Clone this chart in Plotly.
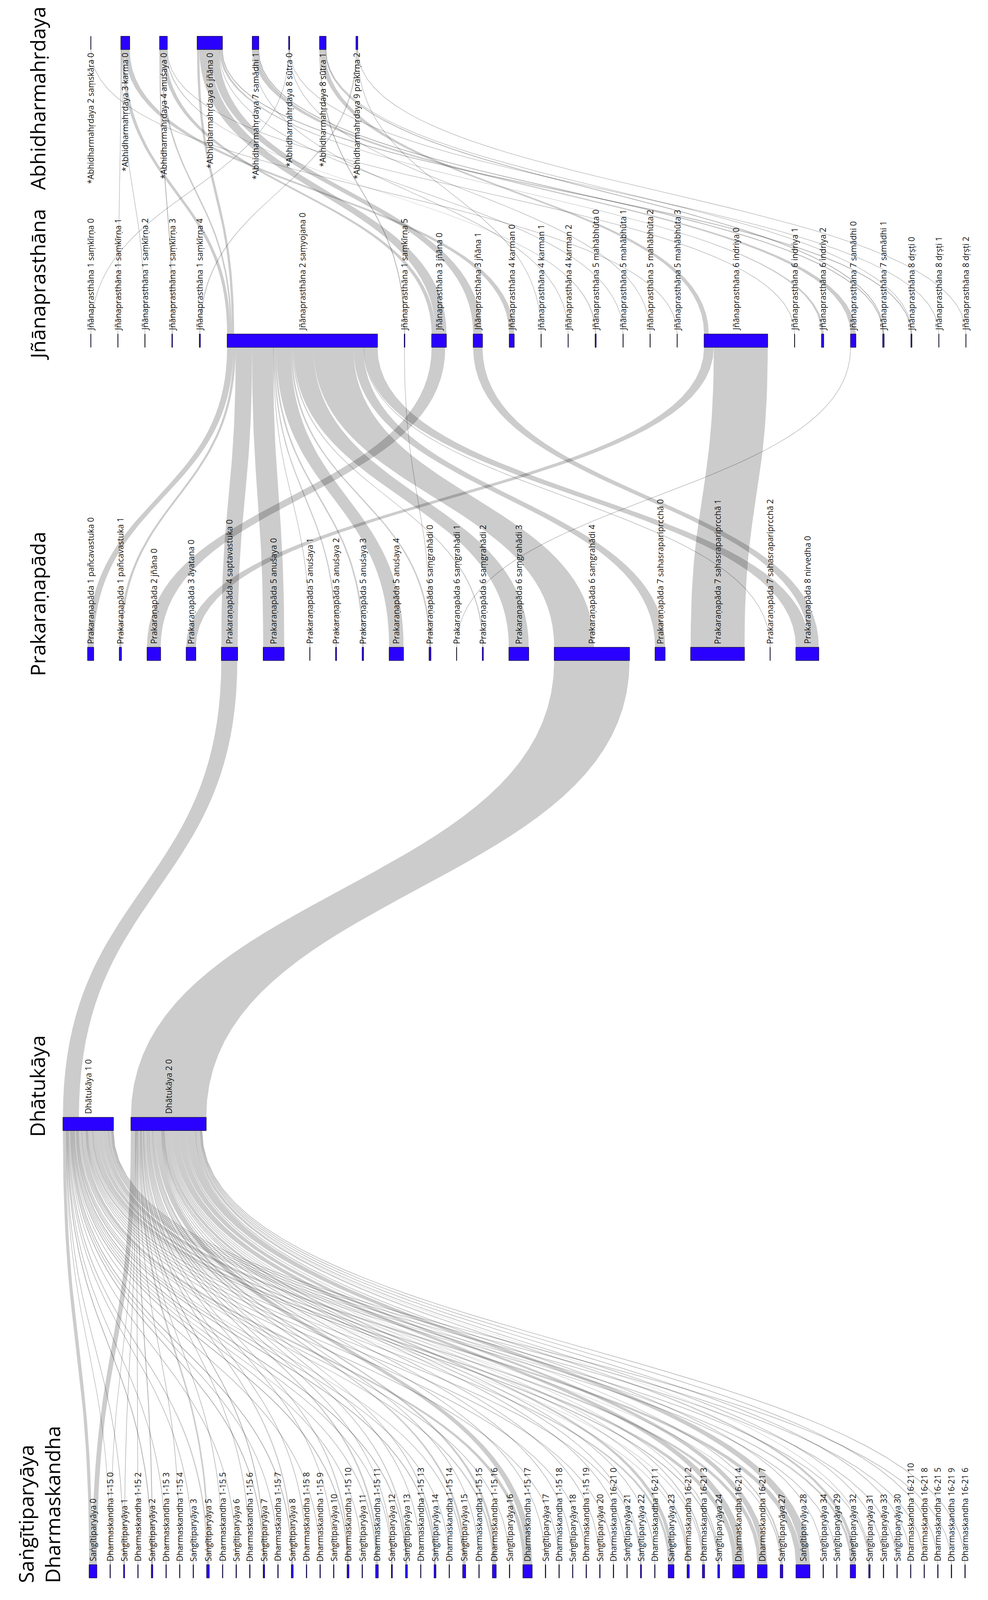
import plotly.graph_objects as go

# ---- nodes per level (left to right) ----
abhi_nodes = ["*Abhidharmahṛdaya 2 saṃskāra 0", "*Abhidharmahṛdaya 3 karma 0", "*Abhidharmahṛdaya 4 anuśaya 0",
              "*Abhidharmahṛdaya 6 jñāna 0", "*Abhidharmahṛdaya 7 samādhi 1", "*Abhidharmahṛdaya 8 sūtra 0",
              "*Abhidharmahṛdaya 8 sūtra 1", "*Abhidharmahṛdaya 9 prakīrṇa 2"]
jnana_nodes = ["Jñānaprasthāna 1 saṃkīrṇa 0", "Jñānaprasthāna 1 saṃkīrṇa 1", "Jñānaprasthāna 1 saṃkīrṇa 2",
               "Jñānaprasthāna 1 saṃkīrṇa 3", "Jñānaprasthāna 1 saṃkīrṇa 4", "Jñānaprasthāna 2 saṃyojana 0",
               "Jñānaprasthāna 1 saṃkīrṇa 5", "Jñānaprasthāna 3 jñāna 0", "Jñānaprasthāna 3 jñāna 1",
               "Jñānaprasthāna 4 karman 0", "Jñānaprasthāna 4 karman 1", "Jñānaprasthāna 4 karman 2",
               "Jñānaprasthāna 5 mahābhūta 0", "Jñānaprasthāna 5 mahābhūta 1", "Jñānaprasthāna 5 mahābhūta 2",
               "Jñānaprasthāna 5 mahābhūta 3", "Jñānaprasthāna 6 indriya 0", "Jñānaprasthāna 6 indriya 1",
               "Jñānaprasthāna 6 indriya 2", "Jñānaprasthāna 7 samādhi 0", "Jñānaprasthāna 7 samādhi 1",
               "Jñānaprasthāna 8 dṛṣṭi 0", "Jñānaprasthāna 8 dṛṣṭi 1", "Jñānaprasthāna 8 dṛṣṭi 2"]
prak_nodes = ["Prakaraṇapāda 1 pañcavastuka 0", "Prakaraṇapāda 1 pañcavastuka 1", "Prakaraṇapāda 2 jñāna 0",
              "Prakaraṇapāda 3 āyatana 0", "Prakaraṇapāda 4 saptavastuka 0", "Prakaraṇapāda 5 anuśaya 0",
              "Prakaraṇapāda 5 anuśaya 1", "Prakaraṇapāda 5 anuśaya 2", "Prakaraṇapāda 5 anuśaya 3",
              "Prakaraṇapāda 5 anuśaya 4", "Prakaraṇapāda 6 saṃgrahādi 0", "Prakaraṇapāda 6 saṃgrahādi 1",
              "Prakaraṇapāda 6 saṃgrahādi 2", "Prakaraṇapāda 6 saṃgrahādi 3", "Prakaraṇapāda 6 saṃgrahādi 4",
              "Prakaraṇapāda 7 sahasrapariprcchā 0", "Prakaraṇapāda 7 sahasrapariprcchā 1",
              "Prakaraṇapāda 7 sahasrapariprcchā 2", "Prakaraṇapāda 8 nirvedha 0"]
dhatu_nodes = ["Dhātukāya 1 0", "Dhātukāya 2 0"]
base_nodes = ["Saṅgītiparyāya 0", "Dharmaskandha 1-15 0", "Saṅgītiparyāya 1", "Dharmaskandha 1-15 2",
              "Saṅgītiparyāya 2", "Dharmaskandha 1-15 3", "Dharmaskandha 1-15 4", "Saṅgītiparyāya 3",
              "Saṅgītiparyāya 5", "Dharmaskandha 1-15 5", "Saṅgītiparyāya 6", "Dharmaskandha 1-15 6",
              "Saṅgītiparyāya 7", "Dharmaskandha 1-15 7", "Saṅgītiparyāya 8", "Dharmaskandha 1-15 8",
              "Dharmaskandha 1-15 9", "Saṅgītiparyāya 10", "Dharmaskandha 1-15 10", "Saṅgītiparyāya 11",
              "Dharmaskandha 1-15 11", "Saṅgītiparyāya 12", "Saṅgītiparyāya 13", "Dharmaskandha 1-15 13",
              "Saṅgītiparyāya 14", "Dharmaskandha 1-15 14", "Saṅgītiparyāya 15", "Dharmaskandha 1-15 15",
              "Dharmaskandha 1-15 16", "Saṅgītiparyāya 16", "Dharmaskandha 1-15 17", "Saṅgītiparyāya 17",
              "Dharmaskandha 1-15 18", "Saṅgītiparyāya 18", "Dharmaskandha 1-15 19", "Saṅgītiparyāya 20",
              "Dharmaskandha 16-21 0", "Saṅgītiparyāya 21", "Saṅgītiparyāya 22", "Dharmaskandha 16-21 1",
              "Saṅgītiparyāya 23", "Dharmaskandha 16-21 2", "Dharmaskandha 16-21 3", "Saṅgītiparyāya 24",
              "Dharmaskandha 16-21 4", "Dharmaskandha 16-21 7", "Saṅgītiparyāya 27", "Saṅgītiparyāya 28",
              "Saṅgītiparyāya 34", "Saṅgītiparyāya 29", "Saṅgītiparyāya 32", "Saṅgītiparyāya 31",
              "Saṅgītiparyāya 33", "Saṅgītiparyāya 30", "Dharmaskandha 16-21 10", "Dharmaskandha 16-21 8",
              "Dharmaskandha 16-21 5", "Dharmaskandha 16-21 9", "Dharmaskandha 16-21 6"]

# base texts -> Dhātukāya 1 / Dhātukāya 2 (same order as base_nodes)
base_to_d1 = [8, 1, 1.5, 0, 2, 1.5, 0, 1.5, 3, 0, 1.5, 0, 2, 1.5, 2, 0, 1.5, 0, 2, 1.5,
              3, 1.5, 2, 0, 2, 1.5, 3, 0, 4, 1.5, 9, 0, 1.5, 0, 1.5, 0, 1.5, 0, 1.5, 0,
              6, 2.5, 2.5, 2, 12, 10, 3, 14, 0, 1.5, 6, 1.5, 0, 1.5, 0, 1.5, 0, 1.5, 0]
base_to_d2 = [12, 0.5, 1.5, 1.5, 2, 0, 1.5, 0, 4, 1.5, 0, 1.5, 2, 0, 3, 1.5, 0, 1.5, 3, 0,
              4, 1.5, 3, 1.5, 3, 0, 5, 1.5, 6, 0, 15, 1.5, 0, 1.5, 0, 1.5, 0, 1.5, 1.5, 1.5,
              9, 3.5, 3.5, 3, 18, 15, 4, 22, 1.5, 0, 8, 2.5, 1.5, 0, 1.5, 0, 1.5, 0, 1.5]

# links between upper and lower levels: (upper node, lower node, value)
abhi_jnana = [
    ("*Abhidharmahṛdaya 2 saṃskāra 0", "Jñānaprasthāna 5 mahābhūta 3", 1),
    ("*Abhidharmahṛdaya 3 karma 0", "Jñānaprasthāna 1 saṃkīrṇa 1", 1),
    ("*Abhidharmahṛdaya 3 karma 0", "Jñānaprasthāna 1 saṃkīrṇa 2", 1),
    ("*Abhidharmahṛdaya 3 karma 0", "Jñānaprasthāna 2 saṃyojana 0", 8),
    ("*Abhidharmahṛdaya 3 karma 0", "Jñānaprasthāna 4 karman 0", 13),
    ("*Abhidharmahṛdaya 4 anuśaya 0", "Jñānaprasthāna 1 saṃkīrṇa 3", 2),
    ("*Abhidharmahṛdaya 4 anuśaya 0", "Jñānaprasthāna 2 saṃyojana 0", 4),
    ("*Abhidharmahṛdaya 4 anuśaya 0", "Jñānaprasthāna 3 jñāna 0", 10),
    ("*Abhidharmahṛdaya 4 anuśaya 0", "Jñānaprasthāna 5 mahābhūta 0", 3),
    ("*Abhidharmahṛdaya 4 anuśaya 0", "Jñānaprasthāna 6 indriya 1", 1),
    ("*Abhidharmahṛdaya 6 jñāna 0", "Jñānaprasthāna 2 saṃyojana 0", 6),
    ("*Abhidharmahṛdaya 6 jñāna 0", "Jñānaprasthāna 3 jñāna 0", 28),
    ("*Abhidharmahṛdaya 6 jñāna 0", "Jñānaprasthāna 3 jñāna 1", 22),
    ("*Abhidharmahṛdaya 6 jñāna 0", "Jñānaprasthāna 5 mahābhūta 1", 1),
    ("*Abhidharmahṛdaya 6 jñāna 0", "Jñānaprasthāna 6 indriya 2", 6),
    ("*Abhidharmahṛdaya 6 jñāna 0", "Jñānaprasthāna 8 dṛṣṭi 0", 2),
    ("*Abhidharmahṛdaya 7 samādhi 1", "Jñānaprasthāna 4 karman 2", 1),
    ("*Abhidharmahṛdaya 7 samādhi 1", "Jñānaprasthāna 7 samādhi 0", 14),
    ("*Abhidharmahṛdaya 7 samādhi 1", "Jñānaprasthāna 7 samādhi 1", 2),
    ("*Abhidharmahṛdaya 8 sūtra 0", "Jñānaprasthāna 1 saṃkīrṇa 0", 1),
    ("*Abhidharmahṛdaya 8 sūtra 0", "Jñānaprasthāna 5 mahābhūta 2", 1),
    ("*Abhidharmahṛdaya 8 sūtra 0", "Jñānaprasthāna 8 dṛṣṭi 1", 1),
    ("*Abhidharmahṛdaya 8 sūtra 1", "Jñānaprasthāna 1 saṃkīrṇa 5", 2),
    ("*Abhidharmahṛdaya 8 sūtra 1", "Jñānaprasthāna 6 indriya 0", 12),
    ("*Abhidharmahṛdaya 8 sūtra 1", "Jñānaprasthāna 7 samādhi 1", 2),
    ("*Abhidharmahṛdaya 8 sūtra 1", "Jñānaprasthāna 8 dṛṣṭi 0", 1),
    ("*Abhidharmahṛdaya 9 prakīrṇa 2", "Jñānaprasthāna 1 saṃkīrṇa 4", 3),
    ("*Abhidharmahṛdaya 9 prakīrṇa 2", "Jñānaprasthāna 4 karman 1", 1),
    ("*Abhidharmahṛdaya 9 prakīrṇa 2", "Jñānaprasthāna 8 dṛṣṭi 2", 1),
]
jnana_prak = [
    ("Jñānaprasthāna 2 saṃyojana 0", "Prakaraṇapāda 1 pañcavastuka 0", 16),
    ("Jñānaprasthāna 2 saṃyojana 0", "Prakaraṇapāda 1 pañcavastuka 1", 6),
    ("Jñānaprasthāna 2 saṃyojana 0", "Prakaraṇapāda 4 saptavastuka 0", 42),
    ("Jñānaprasthāna 2 saṃyojana 0", "Prakaraṇapāda 5 anuśaya 0", 54),
    ("Jñānaprasthāna 2 saṃyojana 0", "Prakaraṇapāda 5 anuśaya 1", 1),
    ("Jñānaprasthāna 2 saṃyojana 0", "Prakaraṇapāda 5 anuśaya 2", 3),
    ("Jñānaprasthāna 2 saṃyojana 0", "Prakaraṇapāda 5 anuśaya 3", 4),
    ("Jñānaprasthāna 2 saṃyojana 0", "Prakaraṇapāda 5 anuśaya 4", 37),
    ("Jñānaprasthāna 2 saṃyojana 0", "Prakaraṇapāda 6 saṃgrahādi 0", 4),
    ("Jñānaprasthāna 2 saṃyojana 0", "Prakaraṇapāda 6 saṃgrahādi 2", 3),
    ("Jñānaprasthāna 2 saṃyojana 0", "Prakaraṇapāda 6 saṃgrahādi 3", 51),
    ("Jñānaprasthāna 2 saṃyojana 0", "Prakaraṇapāda 6 saṃgrahādi 4", 102),
    ("Jñānaprasthāna 2 saṃyojana 0", "Prakaraṇapāda 7 sahasrapariprcchā 0", 26),
    ("Jñānaprasthāna 2 saṃyojana 0", "Prakaraṇapāda 7 sahasrapariprcchā 2", 1),
    ("Jñānaprasthāna 2 saṃyojana 0", "Prakaraṇapāda 8 nirvedha 0", 35),
    ("Jñānaprasthāna 1 saṃkīrṇa 5", "Prakaraṇapāda 6 saṃgrahādi 0", 1),
    ("Jñānaprasthāna 3 jñāna 0", "Prakaraṇapāda 2 jñāna 0", 35),
    ("Jñānaprasthāna 3 jñāna 1", "Prakaraṇapāda 8 nirvedha 0", 24),
    ("Jñānaprasthāna 6 indriya 0", "Prakaraṇapāda 3 āyatana 0", 25),
    ("Jñānaprasthāna 6 indriya 0", "Prakaraṇapāda 7 sahasrapariprcchā 1", 138),
    ("Jñānaprasthāna 7 samādhi 0", "Prakaraṇapāda 6 saṃgrahādi 1", 1),
]
prak_dhatu = [
    ("Prakaraṇapāda 4 saptavastuka 0", "Dhātukāya 1 0", 41),
    ("Prakaraṇapāda 6 saṃgrahādi 4", "Dhātukāya 2 0", 193),
]

level_titles = ["Abhidharmahṛdaya", "Jñānaprasthāna", "Prakaraṇapāda", "Dhātukāya",
                "Saṅgītiparyāya<br>Dharmaskandha"]

# ---- layout constants (page pixels of the reference) ----
W, H = 2529, 5164
NODE_H = 43
levels = [
    # nodes, top y, x start, x end, title anchor y
    (abhi_nodes, 117, 232, 916, 20),
    (jnana_nodes, 1078, 232, 2473, 1166),
    (prak_nodes, 2089, 224, 2096, 2185),
    (dhatu_nodes, 3606, 161, 528, 3672),
    (base_nodes, 5050, 228, 2471, 5112),
]

links = list(abhi_jnana) + list(jnana_prak) + list(prak_dhatu)
for i, name in enumerate(base_nodes):
    if base_to_d1[i] > 0:
        links.append(("Dhātukāya 1 0", name, base_to_d1[i]))
    if base_to_d2[i] > 0:
        links.append(("Dhātukāya 2 0", name, base_to_d2[i]))

out_sum, in_sum = {}, {}
for u, l, v in links:
    out_sum[u] = out_sum.get(u, 0) + v
    in_sum[l] = in_sum.get(l, 0) + v

pos = {}  # name -> (x0, width, ytop)
for nodes, ytop, xs, xe, _ in levels:
    widths = [max(out_sum.get(n, 0), in_sum.get(n, 0), 1) for n in nodes]
    gap = (xe - xs - sum(widths)) / max(len(nodes) - 1, 1)
    x = xs
    for n, w in zip(nodes, widths):
        pos[n] = (x, w, ytop)
        x += w + gap


def center(n):
    return pos[n][0] + pos[n][1] / 2


# stack link ends along each node, ordered by the other end
ends = {}
for n in pos:
    outs = sorted([k for k, lk in enumerate(links) if lk[0] == n], key=lambda k: center(links[k][1]))
    ins = sorted([k for k, lk in enumerate(links) if lk[1] == n], key=lambda k: center(links[k][0]))
    x = pos[n][0]
    for k in outs:
        ends.setdefault(k, {})["u"] = x
        x += links[k][2]
    x = pos[n][0]
    for k in ins:
        ends.setdefault(k, {})["l"] = x
        x += links[k][2]


def bez(xa, ya, xb, yb, steps=40):
    ym = (ya + yb) / 2
    pts = []
    for i in range(steps + 1):
        t = i / steps
        a, b, c, d = (1 - t) ** 3, 3 * (1 - t) ** 2 * t, 3 * (1 - t) * t ** 2, t ** 3
        pts.append((a * xa + b * xa + c * xb + d * xb, a * ya + b * ym + c * ym + d * yb))
    return pts


fig = go.Figure()
for k, (u, l, v) in enumerate(links):
    y0 = pos[u][2] + NODE_H
    y1 = pos[l][2]
    xu, xl = ends[k]["u"], ends[k]["l"]
    if v <= 2:
        pts = bez(xu + v / 2, y0, xl + v / 2, y1)
        fig.add_trace(go.Scatter(x=[p[0] for p in pts], y=[p[1] for p in pts], mode="lines",
                                 line=dict(color="rgba(0,0,0,0.3)", width=max(v, 1.3)),
                                 hoverinfo="skip", showlegend=False))
    else:
        left = bez(xu, y0, xl, y1)
        right = bez(xl + v, y1, xu + v, y0)
        xs_ = [p[0] for p in left + right] + [xu]
        ys_ = [p[1] for p in left + right] + [y0]
        fig.add_trace(go.Scatter(x=xs_, y=ys_, mode="lines", fill="toself",
                                 fillcolor="rgba(0,0,0,0.2)", line=dict(width=0),
                                 hoverinfo="skip", showlegend=False))

# nodes
nx, ny = [], []
for n, (x0, w, yt) in pos.items():
    nx += [x0, x0 + w, x0 + w, x0, x0, None]
    ny += [yt, yt, yt + NODE_H, yt + NODE_H, yt, None]
fig.add_trace(go.Scatter(x=nx, y=ny, mode="lines", fill="toself", fillcolor="#2a00ff",
                         line=dict(color="black", width=1), hoverinfo="skip", showlegend=False))

# node labels and level titles
for li, (nodes, ytop, xs, xe, ty) in enumerate(levels):
    for n in nodes:
        if li == 0:
            fig.add_annotation(x=center(n), y=ytop + NODE_H + 8, text=n, textangle=-90, showarrow=False,
                               xanchor="center", yanchor="top", font=dict(size=21, color="#111"))
        else:
            fig.add_annotation(x=center(n), y=ytop - 8, text=n, textangle=-90, showarrow=False,
                               xanchor="center", yanchor="bottom", font=dict(size=21, color="#111"))
    fig.add_annotation(x=95 if li < 4 else 100, y=ty, text=level_titles[li], textangle=-90, showarrow=False,
                       xanchor="center", yanchor="top" if li == 0 else "bottom", align="left",
                       font=dict(size=52, color="black"))

fig.update_layout(
    autosize=True, margin=dict(l=0, r=0, t=0, b=0),
    paper_bgcolor="white", plot_bgcolor="white",
    font=dict(family="Open Sans, Noto Sans, sans-serif"),
    xaxis=dict(range=[0, W], visible=False, fixedrange=True),
    yaxis=dict(range=[H, 0], visible=False, fixedrange=True),
)
fig.write_html(
    "out.html",
    config={"displayModeBar": False},
    default_width="100vw",
    default_height="100vh",
    post_script="document.body.style.margin='0';document.body.style.overflow='hidden';"
                "Plotly.Plots.resize(document.getElementById('{plot_id}'));",
)
